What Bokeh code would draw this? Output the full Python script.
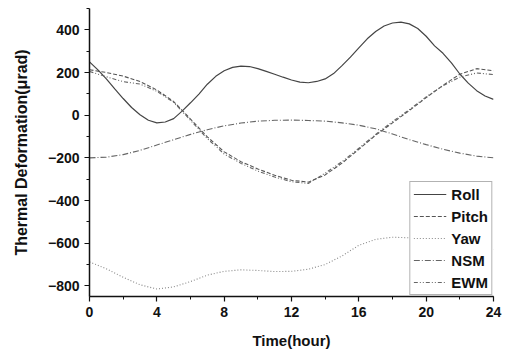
from bokeh.plotting import figure
from bokeh.models import Range1d, SingleIntervalTicker, Legend, LegendItem
from bokeh.embed import file_html
from bokeh.resources import INLINE

roll_t = [0, 0.5, 1, 1.5, 2, 2.5, 3, 3.5, 4, 4.5, 5, 5.5, 6, 6.5, 7, 7.5, 8, 8.5,
          9, 9.5, 10, 10.5, 11, 11.5, 12, 12.5, 13, 13.5, 14, 14.5, 15, 15.5, 16,
          16.5, 17, 17.5, 18, 18.5, 19, 19.5, 20, 20.5, 21, 21.5, 22, 22.5, 23,
          23.5, 24]
roll = [250, 212, 170, 123, 78, 36, 2, -24, -36, -32, -16, 19, 58, 99, 145, 182,
        208, 224, 230, 228, 218, 205, 192, 178, 165, 155, 152, 158, 170, 195, 232,
        272, 315, 358, 392, 418, 432, 436, 428, 406, 370, 325, 290, 245, 193, 150,
        115, 90, 74]
hours = list(range(25))
pitch = [213, 200, 183, 158, 118, 64, -18, -102, -172, -218, -252, -282, -305,
         -314, -280, -225, -160, -94, -36, 22, 82, 140, 192, 218, 208]
yaw = [-688, -720, -760, -795, -815, -805, -780, -750, -732, -725, -728, -733,
       -732, -722, -700, -660, -610, -582, -572, -575, -580, -590, -605, -620, -630]
nsm = [-200, -197, -185, -165, -140, -115, -90, -68, -50, -37, -28, -24, -23,
       -25, -28, -36, -47, -64, -88, -115, -138, -160, -178, -192, -200]
ewm = [205, 180, 157, 146, 112, 60, -24, -110, -182, -226, -262, -290, -312,
       -320, -272, -218, -155, -90, -30, 26, 86, 138, 178, 198, 190]
x_ticks_interval = 4
y_ticks_interval = 200

p = figure(width=511, height=351, output_backend="svg", toolbar_location=None,
           x_range=Range1d(0, 24), y_range=Range1d(-850, 500),
           min_border_left=89, min_border_right=18, min_border_top=8,
           min_border_bottom=54)
p.outline_line_color = None
p.xgrid.visible = False
p.ygrid.visible = False

r_roll = p.line(roll_t, roll, line_color="#444444", line_width=1.2)
r_pitch = p.line(hours, pitch, line_color="#555555", line_width=1.1, line_dash="4 2")
r_yaw = p.line(hours, yaw, line_color="#888888", line_width=1.1, line_dash="1 2")
r_nsm = p.line(hours, nsm, line_color="#666666", line_width=1.1, line_dash="6 2 1 2")
r_ewm = p.line(hours, ewm, line_color="#666666", line_width=1.1, line_dash="4 2 1 2 1 2")

p.xaxis.ticker = SingleIntervalTicker(interval=x_ticks_interval, num_minor_ticks=2)
p.yaxis.ticker = SingleIntervalTicker(interval=y_ticks_interval, num_minor_ticks=2)

for ax in (p.xaxis[0], p.yaxis[0]):
    ax.axis_line_color = "#111111"
    ax.axis_line_width = 1.5
    ax.major_tick_line_color = "#111111"
    ax.minor_tick_line_color = "#111111"
    ax.major_tick_line_width = 1.2
    ax.minor_tick_line_width = 1.0
    ax.major_tick_out = 5
    ax.major_tick_in = 0
    ax.minor_tick_out = 3
    ax.minor_tick_in = 0
    ax.major_label_text_font = "Liberation Sans"
    ax.major_label_text_font_style = "bold"
    ax.major_label_text_font_size = "14px"
    ax.major_label_text_color = "#111111"
    ax.axis_label_text_font = "Liberation Sans"
    ax.axis_label_text_font_style = "bold"
    ax.axis_label_text_color = "#111111"

p.xaxis.axis_label = "Time(hour)"
p.xaxis.axis_label_text_font_size = "15px"
p.xaxis.axis_label_standoff = 12
p.yaxis.axis_label = "Thermal Deformation(μrad)"
p.yaxis.axis_label_text_font_size = "16px"
p.yaxis.axis_label_standoff = 15

legend = Legend(items=[
    LegendItem(label="Roll", renderers=[r_roll]),
    LegendItem(label="Pitch", renderers=[r_pitch]),
    LegendItem(label="Yaw", renderers=[r_yaw]),
    LegendItem(label="NSM", renderers=[r_nsm]),
    LegendItem(label="EWM", renderers=[r_ewm]),
], location="bottom_right")
legend.margin = 1
legend.padding = 3
legend.spacing = 4
legend.glyph_width = 33
legend.glyph_height = 18
legend.label_height = 18
legend.label_standoff = 5
legend.label_text_font = "Liberation Sans"
legend.label_text_font_style = "bold"
legend.label_text_font_size = "15px"
legend.label_text_color = "#111111"
legend.border_line_color = "#666666"
legend.border_line_width = 1
legend.background_fill_color = "white"
legend.background_fill_alpha = 1.0
p.add_layout(legend)

open("out.html", "w").write(file_html(p, INLINE))
